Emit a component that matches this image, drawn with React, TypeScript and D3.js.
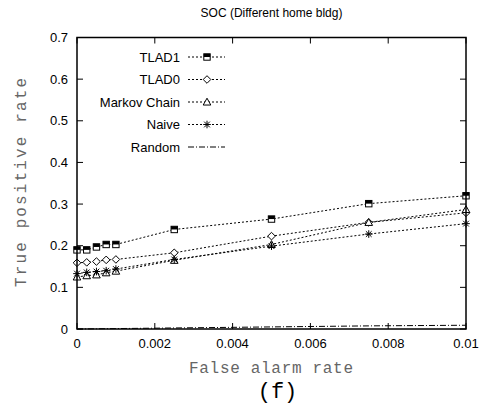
import React from "react";
import * as d3 from "d3";

const xValues = [0, 0.00025, 0.0005, 0.00075, 0.001, 0.0025, 0.005, 0.0075, 0.01];
const tlad1 = [0.19, 0.19, 0.197, 0.203, 0.203, 0.239, 0.264, 0.301, 0.32];
const tlad0 = [0.159, 0.16, 0.162, 0.166, 0.167, 0.183, 0.223, 0.256, 0.279];
const markov = [0.125, 0.128, 0.13, 0.135, 0.139, 0.165, 0.203, 0.256, 0.287];
const naive = [0.133, 0.136, 0.138, 0.14, 0.144, 0.167, 0.199, 0.228, 0.253];
const randomVals = [0, 0.00025, 0.0005, 0.00075, 0.001, 0.0025, 0.005, 0.0075, 0.009];

const xTicks = [0, 0.002, 0.004, 0.006, 0.008, 0.01];
const xTickLabels = ["0", "0.002", "0.004", "0.006", "0.008", "0.01"];
const yTicks = [0, 0.1, 0.2, 0.3, 0.4, 0.5, 0.6, 0.7];
const yTickLabels = ["0", "0.1", "0.2", "0.3", "0.4", "0.5", "0.6", "0.7"];

const seriesNames = ["TLAD1", "TLAD0", "Markov Chain", "Naive", "Random"];
const seriesMarkers = ["square", "diamond", "triangle", "star", "none"];

const title = "SOC (Different home bldg)";
const xLabel = "False alarm rate";
const yLabel = "True positive rate";
const caption = "(f)";

const L = 77, R = 466, T = 37.5, B = 329;

function Marker({ type, x, y }: { type: string; x: number; y: number }) {
  const s = 3.2;
  if (type === "square") {
    return (
      <g>
        <rect x={x - s} y={y - s} width={2 * s} height={2 * s} fill="white" stroke="black" strokeWidth={1} />
        <rect x={x - s} y={y - s} width={2 * s} height={s} fill="black" />
      </g>
    );
  }
  if (type === "diamond") {
    const d = 3.8;
    return (
      <path d={`M${x},${y - d}L${x + d},${y}L${x},${y + d}L${x - d},${y}Z`} fill="white" stroke="black" strokeWidth={1} />
    );
  }
  if (type === "triangle") {
    const d = 3.8;
    return (
      <path d={`M${x},${y - d}L${x + d},${y + d * 0.8}L${x - d},${y + d * 0.8}Z`} fill="white" stroke="black" strokeWidth={1} />
    );
  }
  if (type === "star") {
    const d = 3.8;
    return (
      <path
        d={`M${x - d},${y}L${x + d},${y}M${x},${y - d}L${x},${y + d}M${x - d * 0.75},${y - d * 0.75}L${x + d * 0.75},${y + d * 0.75}M${x - d * 0.75},${y + d * 0.75}L${x + d * 0.75},${y - d * 0.75}`}
        stroke="black"
        strokeWidth={1}
        fill="none"
      />
    );
  }
  return null;
}

export default function App() {
  const x = d3.scaleLinear().domain([0, 0.01]).range([L, R]);
  const y = d3.scaleLinear().domain([0, 0.7]).range([B, T]);
  const series = [tlad1, tlad0, markov, naive, randomVals];
  const line = d3
    .line<number>()
    .x((_, i) => x(xValues[i]))
    .y((v) => y(v));

  const legendY0 = 57;
  const legendStep = 22.5;

  return (
    <svg width={500} height={407} style={{ position: "absolute", left: 0, top: 0 }}>
      <rect width={500} height={407} fill="white" />
      <text x={271.5} y={17} textAnchor="middle" fontFamily="Liberation Sans, Arial, sans-serif" fontSize={12}>
        {title}
      </text>
      {series.map((s, si) => (
        <path
          key={si}
          d={line(s) || ""}
          fill="none"
          stroke="black"
          strokeWidth={1}
          strokeDasharray={si === 4 ? "6,2,1,2" : "2,2"}
        />
      ))}
      {series.map((s, si) =>
        s.map((v, i) => <Marker key={`${si}-${i}`} type={seriesMarkers[si]} x={x(xValues[i])} y={y(v)} />)
      )}
      <rect x={L} y={T} width={R - L} height={B - T} fill="none" stroke="black" strokeWidth={1.5} />
      {xTicks.map((t, i) => (
        <g key={`xt${i}`}>
          <line x1={x(t)} x2={x(t)} y1={B} y2={B - 6} stroke="black" strokeWidth={1} />
          <line x1={x(t)} x2={x(t)} y1={T} y2={T + 6} stroke="black" strokeWidth={1} />
          <text x={x(t)} y={348} textAnchor="middle" fontFamily="Liberation Sans, Arial, sans-serif" fontSize={13}>
            {xTickLabels[i]}
          </text>
        </g>
      ))}
      {yTicks.map((t, i) => (
        <g key={`yt${i}`}>
          <line x1={L} x2={L + 6} y1={y(t)} y2={y(t)} stroke="black" strokeWidth={1} />
          <line x1={R} x2={R - 6} y1={y(t)} y2={y(t)} stroke="black" strokeWidth={1} />
          <text x={68} y={y(t) + 4.5} textAnchor="end" fontFamily="Liberation Sans, Arial, sans-serif" fontSize={13}>
            {yTickLabels[i]}
          </text>
        </g>
      ))}
      {seriesNames.map((n, i) => (
        <g key={`lg${i}`}>
          <text
            x={180}
            y={legendY0 + i * legendStep + 4.5}
            textAnchor="end"
            fontFamily="Liberation Sans, Arial, sans-serif"
            fontSize={13}
          >
            {n}
          </text>
          <line
            x1={188}
            x2={225}
            y1={legendY0 + i * legendStep}
            y2={legendY0 + i * legendStep}
            stroke="black"
            strokeWidth={1}
            strokeDasharray={i === 4 ? "6,2,1,2" : "2,2"}
          />
          <Marker type={seriesMarkers[i]} x={207} y={legendY0 + i * legendStep} />
        </g>
      ))}
      <text
        x={271}
        y={373}
        textAnchor="middle"
        fontFamily="Liberation Mono, Courier New, monospace"
        fontSize={16}
        fill="#666"
        textLength={164}
        lengthAdjust="spacing"
      >
        {xLabel}
      </text>
      <text
        transform={`translate(26,${(78 + 287) / 2}) rotate(-90)`}
        textAnchor="middle"
        fontFamily="Liberation Mono, Courier New, monospace"
        fontSize={16}
        fill="#666"
        textLength={209}
        lengthAdjust="spacing"
      >
        {yLabel}
      </text>
      <text x={277.5} y={398} textAnchor="middle" fontFamily="Liberation Mono, Courier New, monospace" fontSize={22}>
        {caption}
      </text>
    </svg>
  );
}
